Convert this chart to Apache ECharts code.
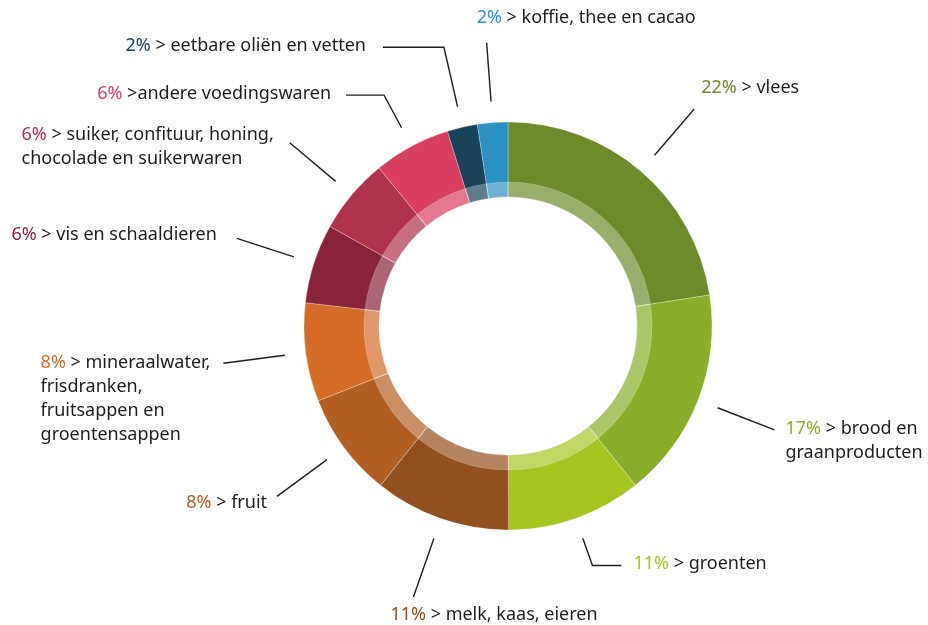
<!DOCTYPE html>
<html><head><meta charset="utf-8">
<script src="https://cdn.jsdelivr.net/npm/echarts@6/dist/echarts.min.js"></script>
<style>html,body{margin:0;padding:0;background:#fff}#c{width:928px;height:625px}</style>
</head><body><div id="c"></div>
<script>
// ---- data ----
const labelTexts = [
  '> vlees',
  '> brood en\ngraanproducten',
  '> groenten',
  '> melk, kaas, eieren',
  '> fruit',
  '> mineraalwater,\nfrisdranken,\nfruitsappen en\ngroentensappen',
  '> vis en schaaldieren',
  '> suiker, confituur, honing,\nchocolade en suikerwaren',
  '>andere voedingswaren',
  '> eetbare oliën en vetten',
  '> koffie, thee en cacao'
];
const shares = [22.6, 16.7, 10.7, 10.8, 8.3, 7.8, 6.3, 6.0, 6.1, 2.4, 2.4];
const pctLabels = ['22%', '17%', '11%', '11%', '8%', '8%', '6%', '6%', '6%', '2%', '2%'];

// ---- styles / layout ----
const colors = ['#6e8b2c', '#8aad29', '#a5c523', '#924f1f', '#b05e22', '#d46c27',
                '#89233b', '#b0324d', '#d83e60', '#19445c', '#2b91c3'];
const CX = 508, CY = 326, R_IN = 129, R_BAND = 144, R_OUT = 204;
const LINE_START = 225;
const lineEnd = [286, 286, 254, 287, 287, 287, 285, 285, 262, 286, 284];
const hook = [0, 0, 29, 0, 0, 0, 0, 0, -38, -61, 0];
// [dx, dy, rightAligned] relative to final line point; dy = first line centre
const labelOffset = [
  [7, -21, 0], [11, -1, 0], [12, -2, 0], [-23, 18, 0], [-10, 7, 1], [-13, 0, 1],
  [-20, -4, 1], [-16, -8, 1], [-15, -1, 1], [-17, -1, 1], [-10, -25, 0]
];
const FONT = 'Noto Sans';
const FS = 18, LH = 24;
const TEXT_COLOR = '#1d1d1b';

const rich = { t: { color: TEXT_COLOR, fontSize: FS, fontFamily: FONT, lineHeight: LH } };
colors.forEach((c, i) => { rich['p' + i] = { color: c, fontSize: FS, fontFamily: FONT, lineHeight: LH }; });

const total = shares.reduce((a, b) => a + b, 0);

const chart = echarts.init(document.getElementById('c'), null, { renderer: 'canvas' });
chart.setOption({
  animation: false,
  backgroundColor: '#ffffff',
  series: [
    {
      type: 'pie',
      center: [CX, CY],
      radius: [R_IN, R_OUT],
      startAngle: 90,
      clockwise: true,
      avoidLabelOverlap: false,
      emphasis: { disabled: true },
      itemStyle: { borderColor: 'rgba(255,255,255,0.45)', borderWidth: 0.6 },
      data: shares.map((v, i) => ({ value: v, name: labelTexts[i], itemStyle: { color: colors[i] } })),
      label: {
        show: true,
        position: 'outside',
        fontFamily: FONT,
        fontSize: FS,
        lineHeight: LH,
        color: TEXT_COLOR,
        rich: rich,
        formatter: function (p) {
          const i = p.dataIndex;
          const lines = labelTexts[i].split('\n');
          return '{p' + i + '|' + pctLabels[i] + '}{t| }' + lines.map(l => '{t|' + l + '}').join('\n');
        }
      },
      labelLine: { show: true, smooth: false, lineStyle: { color: TEXT_COLOR, width: 1.4 } },
      labelLayout: function (params) {
        const i = params.dataIndex;
        let cum = 0;
        for (let j = 0; j < i; j++) cum += shares[j];
        const frac = (cum + shares[i] / 2) / total;
        const ang = (90 - frac * 360) * Math.PI / 180;
        const ux = Math.cos(ang), uy = -Math.sin(ang);
        const p0 = [CX + LINE_START * ux, CY + LINE_START * uy];
        const p1 = [CX + lineEnd[i] * ux, CY + lineEnd[i] * uy];
        const p2 = [p1[0] + hook[i], p1[1]];
        const off = labelOffset[i];
        let x = p2[0] + off[0];
        if (off[2]) x -= params.labelRect.width;
        const y = p2[1] + off[1] - LH / 2;
        return { x: x, y: y, align: 'left', verticalAlign: 'top', labelLinePoints: [p0, p1, p2] };
      }
    },
    {
      type: 'pie',
      center: [CX, CY],
      radius: [R_IN, R_BAND],
      startAngle: 90,
      clockwise: true,
      silent: true,
      label: { show: false },
      labelLine: { show: false },
      itemStyle: { color: 'rgba(255,255,255,0.3)', borderColor: 'rgba(255,255,255,0.3)', borderWidth: 0.6 },
      data: shares.map(v => ({ value: v }))
    }
  ]
});
</script>
</body></html>
